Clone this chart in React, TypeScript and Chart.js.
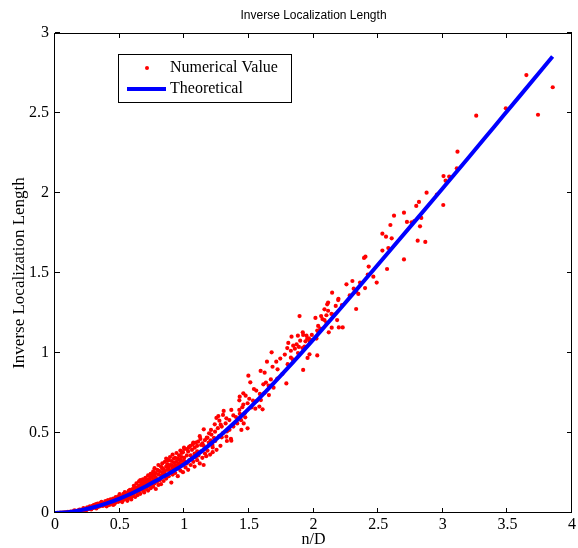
import React, { useEffect, useRef } from "react";
import { Chart, registerables } from "chart.js";

Chart.register(...registerables);

const chartTitle = "Inverse Localization Length";
const xAxisTitle = "n/D";
const yAxisTitle = "Inverse Localization Length";
const legendLabels = ["Numerical Value", "Theoretical"];

// Theoretical curve
const theoX = [0, 0.1, 0.2, 0.3, 0.4, 0.5, 0.6, 0.7, 0.8, 0.9, 1.0, 1.2, 1.4, 1.6, 1.8, 2.0, 2.2, 2.4, 2.6, 2.8, 3.0, 3.2, 3.4, 3.6, 3.85];
const theoY = [0, 0.005, 0.018, 0.036, 0.06, 0.09, 0.125, 0.165, 0.21, 0.255, 0.305, 0.429, 0.573, 0.733, 0.905, 1.085, 1.27, 1.459, 1.648, 1.838, 2.03, 2.222, 2.416, 2.61, 2.853];

// Numerical values (x, y)
const numLow = [
  [0.01, 0.0], [0.02, 0.001], [0.03, 0.0], [0.04, 0.002], [0.05, 0.001], [0.06, 0.003], [0.07, 0.002], [0.08, 0.004], [0.09, 0.003], [0.1, 0.007],
  [0.11, 0.004], [0.12, 0.009], [0.13, 0.006], [0.14, 0.011], [0.15, 0.008], [0.16, 0.013], [0.17, 0.01], [0.18, 0.016], [0.19, 0.012], [0.2, 0.02],
  [0.21, 0.015], [0.22, 0.024], [0.23, 0.019], [0.24, 0.028], [0.25, 0.022], [0.26, 0.032], [0.27, 0.026], [0.28, 0.036], [0.29, 0.03], [0.3, 0.042],
  [0.31, 0.034], [0.32, 0.047], [0.33, 0.038], [0.34, 0.052], [0.35, 0.043], [0.15, 0.016], [0.19, 0.022], [0.22, 0.031], [0.25, 0.036], [0.27, 0.041],
  [0.29, 0.044], [0.31, 0.053], [0.33, 0.058], [0.35, 0.062], [0.12, 0.003], [0.18, 0.008], [0.24, 0.015], [0.28, 0.022], [0.32, 0.028],
  [0.36, 0.055], [0.37, 0.044], [0.38, 0.062], [0.39, 0.048], [0.4, 0.068], [0.41, 0.053], [0.42, 0.072], [0.43, 0.057], [0.44, 0.078], [0.45, 0.062],
  [0.46, 0.085], [0.47, 0.066], [0.48, 0.092], [0.49, 0.07], [0.5, 0.098], [0.51, 0.076], [0.52, 0.105], [0.53, 0.082], [0.54, 0.112], [0.55, 0.088],
  [0.56, 0.12], [0.57, 0.094], [0.58, 0.128], [0.59, 0.1], [0.37, 0.064], [0.42, 0.05], [0.44, 0.066], [0.47, 0.082], [0.49, 0.104], [0.51, 0.092],
  [0.53, 0.12], [0.55, 0.106], [0.57, 0.138], [0.59, 0.085], [0.46, 0.056], [0.52, 0.068], [0.4, 0.042], [0.56, 0.076], [0.58, 0.145], [0.5, 0.118], [0.54, 0.13],
  [0.3, 0.05], [0.32, 0.055], [0.34, 0.04], [0.36, 0.07], [0.38, 0.052], [0.39, 0.075], [0.41, 0.08], [0.43, 0.085], [0.45, 0.09], [0.45, 0.05],
  [0.47, 0.1], [0.48, 0.075], [0.5, 0.085], [0.52, 0.09], [0.53, 0.1], [0.55, 0.125], [0.56, 0.098], [0.57, 0.11], [0.58, 0.115], [0.59, 0.135],
];

const numMid0 = [
  [0.6, 0.15], [0.6, 0.105], [0.61, 0.17], [0.61, 0.118], [0.61, 0.135], [0.62, 0.142], [0.62, 0.1], [0.63, 0.185], [0.63, 0.128], [0.63, 0.155],
  [0.64, 0.16], [0.64, 0.112], [0.65, 0.198], [0.65, 0.138], [0.65, 0.17], [0.66, 0.175], [0.66, 0.12], [0.66, 0.205], [0.67, 0.165], [0.67, 0.19],
  [0.68, 0.21], [0.68, 0.14], [0.68, 0.178], [0.69, 0.128], [0.69, 0.195], [0.7, 0.22], [0.7, 0.182], [0.7, 0.15], [0.71, 0.205], [0.71, 0.16],
  [0.72, 0.235], [0.72, 0.19], [0.72, 0.14], [0.73, 0.212], [0.73, 0.168], [0.74, 0.245], [0.74, 0.198], [0.74, 0.155], [0.75, 0.225], [0.75, 0.175],
  [0.76, 0.26], [0.76, 0.21], [0.76, 0.165], [0.77, 0.235], [0.77, 0.185], [0.77, 0.28], [0.78, 0.222], [0.78, 0.15], [0.78, 0.25], [0.79, 0.27],
  [0.79, 0.195], [0.8, 0.24], [0.8, 0.3], [0.8, 0.175], [0.81, 0.262], [0.81, 0.205], [0.82, 0.29], [0.82, 0.235], [0.82, 0.18], [0.83, 0.255],
  [0.83, 0.31], [0.84, 0.275], [0.84, 0.2], [0.84, 0.245], [0.85, 0.32], [0.85, 0.262], [0.86, 0.29], [0.86, 0.215], [0.86, 0.34], [0.87, 0.27],
  [0.87, 0.305], [0.88, 0.33], [0.88, 0.23], [0.88, 0.285], [0.89, 0.265], [0.89, 0.35], [0.9, 0.3], [0.9, 0.19], [0.9, 0.325], [0.91, 0.28],
  [0.91, 0.365], [0.91, 0.24], [0.92, 0.315], [0.92, 0.29], [0.93, 0.345], [0.93, 0.25], [0.93, 0.3], [0.94, 0.375], [0.94, 0.32], [0.95, 0.295],
  [0.95, 0.34], [0.95, 0.23], [0.96, 0.36], [0.96, 0.31], [0.97, 0.33], [0.97, 0.39], [0.97, 0.265], [0.98, 0.35], [0.98, 0.305], [0.99, 0.38],
  [0.99, 0.325], [0.99, 0.255], [1.0, 0.345], [1.0, 0.4],
  [0.6, 0.125], [0.62, 0.16], [0.64, 0.135], [0.66, 0.16], [0.68, 0.195], [0.7, 0.2], [0.72, 0.21], [0.74, 0.225], [0.76, 0.24], [0.78, 0.205],
  [0.8, 0.265], [0.83, 0.28], [0.85, 0.245], [0.87, 0.33], [0.89, 0.3], [0.92, 0.34], [0.94, 0.29], [0.96, 0.335], [0.98, 0.375], [1.0, 0.325],
];

const numMid1 = [
  [1.01, 0.285], [1.02, 0.36], [1.02, 0.31], [1.03, 0.385], [1.03, 0.27], [1.04, 0.33], [1.05, 0.36], [1.05, 0.3], [1.06, 0.395], [1.06, 0.345],
  [1.07, 0.32], [1.08, 0.372], [1.08, 0.29], [1.09, 0.35], [1.1, 0.385], [1.1, 0.33], [1.11, 0.36], [1.12, 0.31], [1.13, 0.385], [1.14, 0.345],
  [1.15, 0.3], [1.16, 0.372], [1.17, 0.355], [1.18, 0.39], [1.2, 0.365], [1.22, 0.38], [1.25, 0.395], [1.05, 0.42], [1.09, 0.44], [1.13, 0.425],
  [1.16, 0.455], [1.19, 0.44], [1.23, 0.47], [1.27, 0.48], [1.3, 0.5], [1.33, 0.51], [1.38, 0.54], [1.41, 0.56], [1.44, 0.58], [1.46, 0.56],
  [1.02, 0.4], [1.04, 0.415], [1.07, 0.44], [1.1, 0.42], [1.12, 0.48], [1.15, 0.42], [1.18, 0.47], [1.21, 0.49], [1.24, 0.45], [1.26, 0.53],
  [1.29, 0.54], [1.32, 0.56], [1.35, 0.52], [1.38, 0.61], [1.4, 0.6], [1.43, 0.62], [1.33, 0.45], [1.28, 0.42], [1.22, 0.41],
  [1.712, 0.946], [1.64, 0.946], [1.683, 0.914], [1.722, 0.898], [1.591, 0.888], [1.622, 0.877], [1.496, 0.858], [1.67, 0.835], [1.632, 0.815], [1.511, 0.817],
  [1.612, 0.804], [1.653, 0.796], [1.539, 0.775], [1.691, 0.783], [1.655, 0.737], [1.585, 0.744], [1.557, 0.765], [1.457, 0.748], [1.475, 0.733], [1.429, 0.727],
  [1.503, 0.714], [1.426, 0.704], [1.532, 0.702], [1.593, 0.706], [1.49, 0.686], [1.457, 0.677], [1.581, 0.665], [1.55, 0.652], [1.606, 0.648], [1.449, 0.661],
  [1.426, 0.644], [1.467, 0.623], [1.472, 0.598], [1.364, 0.644], [1.305, 0.638], [1.264, 0.606], [1.249, 0.594], [1.3, 0.613], [1.326, 0.592], [1.272, 0.577],
  [1.349, 0.581], [1.236, 0.554], [1.282, 0.552], [1.49, 0.529], [1.442, 0.519], [1.151, 0.523], [1.207, 0.519], [1.192, 0.498], [1.238, 0.508], [1.361, 0.464],
  [1.326, 0.477], [1.29, 0.473], [1.364, 0.452], [1.174, 0.471], [1.125, 0.463], [1.107, 0.446], [1.066, 0.429], [1.14, 0.436], [0.998, 0.408], [1.035, 0.408],
  [1.081, 0.408], [1.218, 0.425], [1.205, 0.454],
];

const numMid2 = [
  [2.463, 1.477], [2.489, 1.44], [2.399, 1.406], [2.301, 1.45], [2.255, 1.429], [2.311, 1.402], [2.33, 1.383], [2.347, 1.369], [2.144, 1.377], [2.193, 1.339],
  [2.191, 1.331], [2.113, 1.315], [2.106, 1.304], [2.172, 1.294], [2.085, 1.273], [2.33, 1.275], [2.059, 1.231], [2.1, 1.236], [2.113, 1.264], [2.139, 1.244],
  [2.085, 1.206], [2.069, 1.212], [2.015, 1.219], [1.892, 1.231], [2.183, 1.206], [2.141, 1.158], [2.196, 1.16], [2.226, 1.16], [2.118, 1.129], [2.036, 1.169],
  [2.052, 1.152], [2.029, 1.14], [1.917, 1.129], [1.92, 1.113], [1.879, 1.108], [1.83, 1.102], [1.946, 1.108], [1.964, 1.092], [1.987, 1.113], [1.951, 1.088],
  [1.971, 1.071], [2.023, 1.09], [1.897, 1.077], [1.938, 1.073], [1.869, 1.054], [1.843, 1.046], [1.887, 1.038], [1.856, 1.027], [1.915, 1.031], [1.805, 1.063],
  [1.797, 1.031], [1.825, 1.014], [1.969, 0.992], [2.029, 0.985], [1.778, 0.99], [1.743, 0.965], [1.676, 1.004], [1.954, 0.969], [1.825, 0.971],
  [1.92, 0.894], [1.79, 0.81], [1.52, 0.66], [1.56, 0.7], [1.62, 0.75], [1.68, 0.8], [1.72, 0.84], [1.76, 0.87], [1.8, 0.93], [1.84, 0.96],
  [1.88, 1.0], [1.93, 1.04], [1.98, 1.08], [2.04, 1.13], [2.1, 1.19], [2.16, 1.24], [2.22, 1.3], [2.28, 1.36], [2.36, 1.44], [2.42, 1.49],
];

const numHigh = [
  [3.647, 2.737], [3.851, 2.661], [3.488, 2.529], [3.737, 2.489], [3.259, 2.483], [3.114, 2.258], [3.109, 2.154], [3.006, 2.106], [3.05, 2.102], [3.022, 2.077],
  [2.875, 2.002], [2.955, 1.99], [2.816, 1.944], [2.795, 1.919], [3.004, 1.925], [2.7, 1.877], [2.623, 1.858], [2.723, 1.819], [2.759, 1.817], [2.78, 1.825],
  [2.834, 1.844], [2.595, 1.8], [2.824, 1.792], [2.533, 1.746], [2.561, 1.727], [2.605, 1.717], [2.806, 1.702], [2.865, 1.694], [2.579, 1.656], [2.533, 1.64],
  [2.402, 1.602], [2.391, 1.594], [2.427, 1.54], [2.7, 1.585], [2.569, 1.525],
];

const xTickValues = [0, 0.5, 1, 1.5, 2, 2.5, 3, 3.5, 4];
const yTickValues = [0, 0.5, 1, 1.5, 2, 2.5, 3];

const SERIF = '"Liberation Serif", "Times New Roman", serif';
const SANS = '"Liberation Sans", Arial, sans-serif';

export default function App() {
  const ref = useRef<HTMLCanvasElement | null>(null);

  useEffect(() => {
    if (!ref.current) return;
    const pts = [...numLow, ...numMid0, ...numMid1, ...numMid2, ...numHigh].map(([x, y]) => ({ x, y }));
    const theo = theoX.map((x, i) => ({ x, y: theoY[i] }));

    const framePlugin = {
      id: "matlabFrame",
      afterDraw(chart: any) {
        const { ctx, chartArea } = chart;
        const { left, right, top, bottom } = chartArea;
        const xs = chart.scales.x;
        const ys = chart.scales.y;
        ctx.save();
        ctx.strokeStyle = "#000";
        ctx.lineWidth = 1;
        ctx.strokeRect(Math.round(left) - 0.5, Math.round(top) + 0.5, Math.round(right - left), Math.round(bottom - top) - 1);
        ctx.beginPath();
        const tl = 5;
        xTickValues.forEach((v) => {
          const px = Math.round(xs.getPixelForValue(v)) - 0.5;
          ctx.moveTo(px, bottom);
          ctx.lineTo(px, bottom - tl);
          ctx.moveTo(px, top);
          ctx.lineTo(px, top + tl);
        });
        yTickValues.forEach((v) => {
          const py = Math.round(ys.getPixelForValue(v)) - 0.5;
          ctx.moveTo(left, py);
          ctx.lineTo(left + tl, py);
          ctx.moveTo(right, py);
          ctx.lineTo(right - tl, py);
        });
        ctx.stroke();

        ctx.fillStyle = "#000";
        ctx.font = `12px ${SANS}`;
        ctx.textAlign = "center";
        ctx.textBaseline = "middle";
        ctx.fillText(chartTitle, (left + right) / 2, 16);

        const bx = left + 63;
        const by = top + 21;
        const bw = 173;
        const bh = 48;
        ctx.fillStyle = "#fff";
        ctx.fillRect(bx, by, bw, bh);
        ctx.strokeStyle = "#000";
        ctx.lineWidth = 1;
        ctx.strokeRect(bx + 0.5, by + 0.5, bw, bh);
        ctx.fillStyle = "#ff0000";
        ctx.beginPath();
        ctx.arc(bx + 29, by + 14, 2, 0, Math.PI * 2);
        ctx.fill();
        ctx.strokeStyle = "#0000ff";
        ctx.lineWidth = 4;
        ctx.beginPath();
        ctx.moveTo(bx + 9, by + 35);
        ctx.lineTo(bx + 48, by + 35);
        ctx.stroke();
        ctx.fillStyle = "#000";
        ctx.font = `16px ${SERIF}`;
        ctx.textAlign = "left";
        ctx.textBaseline = "middle";
        ctx.fillText(legendLabels[0], bx + 52, by + 14);
        ctx.fillText(legendLabels[1], bx + 52, by + 35);
        ctx.restore();
      },
    };

    const fmt = (v: any) => `${Number(v)}`;

    const chart = new Chart(ref.current, {
      type: "scatter",
      data: {
        datasets: [
          {
            label: legendLabels[0],
            data: pts,
            pointRadius: 2.1,
            pointHoverRadius: 2.1,
            pointBackgroundColor: "#ff0000",
            pointBorderWidth: 0,
            borderColor: "#ff0000",
            showLine: false,
            order: 2,
          },
          {
            label: legendLabels[1],
            type: "line",
            data: theo,
            borderColor: "#0000ff",
            backgroundColor: "#0000ff",
            borderWidth: 4,
            pointRadius: 0,
            cubicInterpolationMode: "monotone",
            fill: false,
            order: 1,
          } as any,
        ],
      },
      options: {
        animation: false,
        responsive: false,
        devicePixelRatio: 1,
        layout: { padding: { top: 33, right: 5, left: 0, bottom: 0 } },
        plugins: { legend: { display: false }, title: { display: false }, tooltip: { enabled: false } },
        scales: {
          x: {
            type: "linear",
            min: 0,
            max: 4,
            afterBuildTicks: (s: any) => {
              s.ticks = xTickValues.map((v) => ({ value: v }));
            },
            grid: { display: false, drawTicks: false },
            border: { display: false },
            ticks: {
              color: "#000",
              font: { family: SERIF, size: 16 },
              padding: 2,
              maxRotation: 0,
              autoSkip: false,
              callback: fmt,
            },
            title: {
              display: true,
              text: xAxisTitle,
              color: "#000",
              font: { family: SERIF, size: 16, lineHeight: 1.2 },
              padding: { top: 0, bottom: -1 },
            },
            afterFit: (s: any) => {
              s.height = 35;
            },
          },
          y: {
            type: "linear",
            min: 0,
            max: 3,
            afterBuildTicks: (s: any) => {
              s.ticks = yTickValues.map((v) => ({ value: v }));
            },
            grid: { display: false, drawTicks: false },
            border: { display: false },
            ticks: {
              color: "#000",
              font: { family: SERIF, size: 16 },
              padding: 6,
              autoSkip: false,
              callback: fmt,
            },
            title: {
              display: true,
              text: yAxisTitle,
              color: "#000",
              font: { family: SERIF, size: 17, lineHeight: 1.2 },
              padding: { top: 9, bottom: 0 },
            },
            afterFit: (s: any) => {
              s.width = 55;
            },
          },
        },
      },
      plugins: [framePlugin],
    } as any);

    return () => chart.destroy();
  }, []);

  return (
    <div style={{ position: "fixed", left: 0, top: 0, width: 578, height: 548, background: "#fff" }}>
      <canvas ref={ref} width={578} height={548} style={{ display: "block", width: 578, height: 548 }} />
    </div>
  );
}
